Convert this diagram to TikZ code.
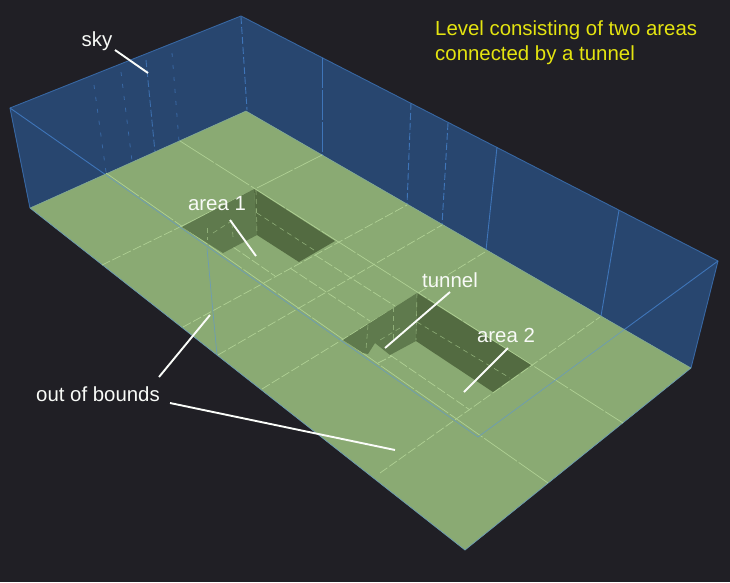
\documentclass[tikz,border=0pt]{standalone}
\usepackage{fontspec}
\setmainfont{Liberation Sans}
\definecolor{bgc}{HTML}{201F25}
\definecolor{skyc}{HTML}{28466F}
\definecolor{skyl}{HTML}{3F75B8}
\definecolor{floorc}{HTML}{8AAA73}
\definecolor{gridc}{HTML}{AFD094}
\definecolor{bluel}{HTML}{6C9CB4}
\definecolor{pita}{HTML}{5F7A4D}
\definecolor{pitb}{HTML}{536B41}
\definecolor{titlec}{HTML}{E4E410}
\tikzset{
  skysolid/.style={draw=skyl,line width=0.9pt},
  skydash/.style={draw=skyl,line width=0.9pt,dash pattern=on 7pt off 3pt},
  skyfaint/.style={draw=skyl!75!skyc,line width=0.8pt,dash pattern=on 4pt off 8pt},
  gridsolid/.style={draw=gridc,line width=0.7pt},
  griddash/.style={draw=gridc,line width=0.7pt,dash pattern=on 9pt off 2.5pt},
  gridfaint/.style={draw=gridc!60!pita,line width=0.6pt,dash pattern=on 5pt off 4pt},
  bluethin/.style={draw=bluel,line width=0.7pt},
  leader/.style={draw=white!96!floorc,line width=1.9pt},
  lbl/.style={text=white!94!floorc,font=\fontsize{20.4}{24}\selectfont,inner sep=0pt},
  titlelbl/.style={text=titlec,font=\fontsize{20.4}{25}\selectfont,align=left,inner sep=0pt,anchor=north west}
}
\begin{document}
\begin{tikzpicture}[x=1pt,y=-1pt]
\useasboundingbox (0,0) rectangle (730,582);
\fill[bgc] (0,0) rectangle (730,582);
% sky walls
\fill[skyc] (10,108) -- (241,16) -- (718,261) -- (691,368) -- (246,111) -- (30,208) -- cycle;
\draw[skysolid,draw=skyl!70!skyc,line join=round] (30,208) -- (10,108) -- (241,16) -- (718,261) -- (691,368);
\draw[skyfaint] (94,85) -- (106,172);
\draw[skyfaint] (121,72) -- (132,161);
\draw[skydash,draw=skyl!85!skyc] (146,60) -- (155,152);
\draw[skyfaint] (172,53) -- (179,141);
\draw[skydash] (241,17) -- (247,110);
\draw[skydash,dash pattern=on 30pt off 2pt] (322,58) -- (322,155);
\draw[skydash] (411,103) -- (407,205);
\draw[skydash] (448,123) -- (442,225);
\draw[skysolid] (497,147) -- (486,250);
\draw[skysolid] (619,210) -- (601,316);
\draw[skysolid] (10,108) -- (106,175);
\draw[skysolid] (718,261) -- (625,329);
% floor
\fill[floorc] (30,208) -- (246,111) -- (691,368) -- (465,550) -- cycle;
\draw[bluethin,line join=round] (30,208) -- (465,550) -- (691,368);
\draw[gridsolid,draw=gridc!60!skyl,line width=0.5pt] (30,208) -- (246,111) -- (691,368);
% long grid lines
\draw[griddash,dash pattern=on 40pt off 2pt] (106,173) -- (548,483);
\draw[griddash,dash pattern=on 40pt off 2pt] (180,141) -- (623,423);
\draw[griddash] (315,255) -- (395,306);
\draw[griddash] (290,268) -- (370,321);
\draw[griddash] (233,247) -- (275,276);
\draw[griddash] (390,355) -- (470,410);
% cross grid lines
\draw[griddash] (102,265) -- (182,226);
\draw[griddash,dash pattern=on 40pt off 2pt] (182,226) -- (322,155);
\draw[griddash] (183,327) -- (407,205);
\draw[griddash] (218,355) -- (442,225);
\draw[griddash] (262,389) -- (485,252);
\draw[griddash] (380,473) -- (600,317);
\draw[griddash] (378,363) -- (392,356);
% blue lines on the floor
\draw[bluethin] (106,175) -- (478,437) -- (625,329);
\draw[bluethin] (207,248) -- (217,355);
% area 1
\fill[pitb] (254,189) -- (335,241) -- (299,262) -- (257,235) -- cycle;
\fill[pita] (182,227) -- (254,189) -- (257,235) -- (223,253) -- cycle;
\draw[gridfaint] (257,213) -- (317,252);
\draw[gridfaint] (256,190) -- (257,233);
\draw[gridfaint] (207,228) -- (207,240);
\draw[gridfaint] (232,223) -- (233,237);
\draw[gridfaint] (213,233) -- (233,220);
% area 2 and tunnel
\fill[pitb] (417,293) -- (531,365) -- (493,392) -- (416,341) -- cycle;
\fill[pita] (343,340) -- (417,293) -- (416,341) -- (390,355) -- (375,343) -- (368,354) -- (363,353) -- cycle;
\draw[gridfaint] (417,322) -- (510,378);
\draw[gridfaint] (417,293) -- (416,340);
\draw[gridfaint] (393,307) -- (393,340);
\draw[gridfaint] (368,325) -- (366,350);
\draw[gridfaint] (400,328) -- (380,340);
% labels
\node[lbl] (skyl) at (97,41) {sky};
\node[lbl] (areaone) at (217,204) {area 1};
\node[lbl] (tunnell) at (450,280) {tunnel};
\node[lbl] (areatwo) at (506,335) {area 2};
\node[lbl] (oob) at (98,394) {out of bounds};
\node[titlelbl] (title) at (435,21) {Level consisting of two areas\\connected by a tunnel};
% leaders
\coordinate (skytip) at (148,73);
\coordinate (areaonetip) at (256,256);
\coordinate (tunneltip) at (385,348);
\coordinate (areatwotip) at (464,392);
\coordinate (oobtipa) at (159,377);
\coordinate (oobtipb) at (395,450);
\draw[leader] ([shift={(18,9)}]skyl.center) -- (skytip);
\draw[leader] ([shift={(13,16)}]areaone.center) -- (areaonetip);
\draw[leader] ([shift={(0,12)}]tunnell.center) -- (tunneltip);
\draw[leader] ([shift={(2,13)}]areatwo.center) -- (areatwotip);
\draw[leader] ([shift={(112,-79)}]oob.center) -- (oobtipa);
\draw[leader] ([shift={(72,9)}]oob.center) -- (oobtipb);
\end{tikzpicture}
\end{document}
